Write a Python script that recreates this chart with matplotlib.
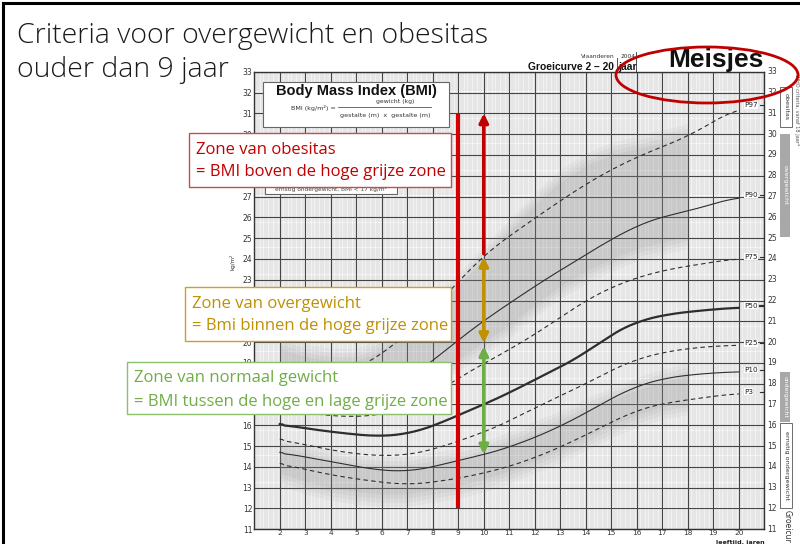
import numpy as np
import matplotlib
matplotlib.use("Agg")
import matplotlib.pyplot as plt
from matplotlib.patches import Rectangle, Ellipse

# ---------------- data ----------------
ages = [2, 3, 4, 5, 6, 7, 8, 9, 10, 11, 12, 13, 14, 15, 16, 17, 18, 19, 20]
p97 = [18.8, 18.5, 18.4, 18.7, 19.4, 20.4, 21.6, 22.9, 24.2, 25.1, 25.95, 26.8, 27.6, 28.3, 28.9, 29.4, 29.87, 30.6, 31.3]
p90 = [17.6, 17.3, 17.15, 17.2, 17.5, 18.2, 19.1, 20.1, 21.05, 21.85, 22.7, 23.45, 24.2, 24.95, 25.6, 26.05, 26.28, 26.65, 27.0]
p75 = [16.85, 16.6, 16.45, 16.4, 16.5, 16.85, 17.45, 18.3, 18.95, 19.65, 20.35, 21.2, 22.0, 22.65, 23.1, 23.45, 23.65, 23.85, 24.03]
p50 = [16.06, 15.85, 15.69, 15.55, 15.45, 15.58, 15.93, 16.5, 17.0, 17.55, 18.2, 18.8, 19.46, 20.4, 21.0, 21.3, 21.46, 21.57, 21.67]
p25 = [15.34, 15.05, 14.81, 14.62, 14.52, 14.57, 14.81, 15.25, 15.65, 16.2, 16.85, 17.4, 18.0, 18.65, 19.2, 19.5, 19.7, 19.8, 19.86]
p10 = [14.70, 14.48, 14.25, 14.02, 13.82, 13.77, 13.98, 14.33, 14.57, 14.95, 15.4, 15.95, 16.58, 17.3, 17.9, 18.25, 18.42, 18.52, 18.58]
p3 = [14.17, 13.88, 13.61, 13.42, 13.26, 13.13, 13.26, 13.45, 13.69, 14.02, 14.43, 14.95, 15.53, 16.15, 16.74, 17.05, 17.22, 17.4, 17.54]
pct_labels = ["P97", "P90", "P75", "P50", "P25", "P10", "P3"]

band_ages = [2, 3, 4, 5, 6, 7, 8, 9, 10, 11, 12, 13, 14, 15, 16, 17, 18]
high_bot = [18.0, 17.6, 17.3, 17.2, 17.3, 17.8, 18.4, 19.1, 19.9, 20.7, 21.7, 22.6, 23.3, 23.9, 24.4, 24.7, 25.0]
high_top = [19.8, 19.4, 19.2, 19.2, 19.7, 20.5, 21.6, 22.8, 24.1, 25.4, 26.7, 27.8, 28.6, 29.1, 29.4, 29.7, 30.0]
low_top = [14.9, 14.6, 14.3, 14.1, 14.0, 14.0, 14.2, 14.4, 14.7, 15.2, 15.7, 16.2, 16.8, 17.3, 17.8, 18.2, 18.5]
low_bot = [13.6, 13.2, 12.9, 12.7, 12.6, 12.6, 12.8, 13.0, 13.3, 13.7, 14.2, 14.7, 15.3, 15.9, 16.4, 16.8, 17.0]

x_ticks = list(range(2, 21))
y_ticks = list(range(11, 34))
left_hidden = [17, 18, 21, 22, 28, 29]

marker_age = 9
arrow_age = 10
obese_arrow = (24.25, 31.0)
over_arrow = (19.95, 24.1)
normal_arrow = (14.6, 19.8)

title_lines = ["Criteria voor overgewicht en obesitas", "ouder dan 9 jaar"]
box_texts = [
    ("Zone van obesitas", "= BMI boven de hoge grijze zone"),
    ("Zone van overgewicht", "= Bmi binnen de hoge grijze zone"),
    ("Zone van normaal gewicht", "= BMI tussen de hoge en lage grijze zone"),
]

# ---------------- figure ----------------
W, H = 800, 544
fig = plt.figure(figsize=(8, 5.44), dpi=100)
fig.patch.set_facecolor("white")


def fx(px):
    return px / W


def fy(py):
    return 1 - py / H


X0, X1 = 254.3, 764.3
Y0, Y1 = 529.3, 71.7
ax = fig.add_axes([fx(X0), fy(Y0), (X1 - X0) / W, (Y0 - Y1) / H])
ax.set_xlim(1, 21)
ax.set_ylim(11, 33)

# grid
for v in np.arange(1, 21.0001, 0.1):
    ax.axvline(v, color="#bdbdbd", lw=0.3, zorder=1)
for v in np.arange(11, 33.0001, 0.1):
    ax.axhline(v, color="#bdbdbd", lw=0.3, zorder=1)
for v in range(1, 22):
    ax.axvline(v, color="#454545", lw=0.8, zorder=1.2)
for v in range(11, 34):
    ax.axhline(v, color="#454545", lw=0.8, zorder=1.2)

# grey bands (soft edges)
ba = np.array(band_ages, float)
xs = np.linspace(2, 18, 200)
for lo, hi in [(low_bot, low_top), (high_bot, high_top)]:
    lo_i = np.interp(xs, ba, lo)
    hi_i = np.interp(xs, ba, hi)
    for k, a in [(0.5, 0.07), (0.3, 0.08), (0.1, 0.09), (-0.1, 0.10)]:
        ax.fill_between(xs, lo_i - k, hi_i + k, color="#8c8c8c", alpha=a, lw=0, zorder=2)

# percentile curves
curves = [p97, p90, p75, p50, p25, p10, p3]
styles = [("--", 0.8), ("-", 0.8), ("--", 0.8), ("-", 1.6), ("--", 0.8), ("-", 0.8), ("--", 0.8)]
for cv, (ls, lw), lab in zip(curves, styles, pct_labels):
    xa = np.linspace(2, 20, 300)
    ya = np.interp(xa, ages, cv)
    k = 15
    ypad = np.concatenate([np.full(k, ya[0]), ya, np.full(k, ya[-1])])
    ys = np.convolve(ypad, np.ones(2 * k + 1) / (2 * k + 1), mode="same")[k:-k]
    ys[:3] = ya[:3]
    ax.plot(xa, ys, ls=ls, lw=lw, color="#2e2e2e", zorder=3,
            dashes=(4, 3) if ls == "--" else (None, None))
    ax.text(20.2, cv[-1] + 0.08, lab, fontsize=5.2, color="#222", va="center", ha="left", zorder=4,
            bbox=dict(fc="white", ec="none", pad=0.2))
    ax.plot([20.85, 21.0], [cv[-1] + 0.08] * 2, color="#2e2e2e", lw=lw, zorder=4)

# red marker line and arrows
ax.plot([marker_age, marker_age], [12, 31], color="#d40000", lw=3.0, zorder=6, solid_capstyle="butt")
ax.annotate("", xy=(arrow_age, obese_arrow[1]), xytext=(arrow_age, obese_arrow[0]),
            arrowprops=dict(arrowstyle="-|>", color="#c00000", lw=2.6, mutation_scale=13, shrinkA=0, shrinkB=0),
            zorder=6)
ax.annotate("", xy=(arrow_age, over_arrow[1]), xytext=(arrow_age, over_arrow[0]),
            arrowprops=dict(arrowstyle="<|-|>", color="#c09100", lw=2.6, mutation_scale=13, shrinkA=0, shrinkB=0),
            zorder=6)
ax.annotate("", xy=(arrow_age, normal_arrow[1]), xytext=(arrow_age, normal_arrow[0]),
            arrowprops=dict(arrowstyle="<|-|>", color="#6fad47", lw=2.6, mutation_scale=13, shrinkA=0, shrinkB=0),
            zorder=6)

# axes ticks
ax.set_xticks(x_ticks)
ax.set_xticklabels([str(t) for t in x_ticks], fontsize=5.3, color="#333")
ax.set_yticks(y_ticks)
ax.set_yticklabels(["" if t in left_hidden else str(t) for t in y_ticks], fontsize=5.5, color="#333")
ax.tick_params(axis="x", length=0, pad=0.8)
ax.tick_params(axis="y", length=0, pad=1.5)
for t in y_ticks:
    ax.text(21.12, t, str(t), fontsize=5.5, color="#333", ha="left", va="center", clip_on=False)
for s in ax.spines.values():
    s.set_color("#333")
    s.set_linewidth(1.0)

fig.text(fx(765), fy(542.3), "leeftijd, jaren", fontsize=4.6, fontweight="bold", ha="right", va="center",
         color="#222")
fig.text(fx(233), fy(262), "kg/m²", fontsize=4, rotation=90, ha="center", va="center", color="#333")

# ---------------- header ----------------
fig.text(fx(17), fy(36), title_lines[0], fontsize=20.5, family="Open Sans", fontweight="light",
         color="#1a1a1a", va="center", ha="left")
fig.text(fx(17), fy(70), title_lines[1], fontsize=20.5, family="Open Sans", fontweight="light",
         color="#1a1a1a", va="center", ha="left")

fig.text(fx(615), fy(57), "Vlaanderen", fontsize=4.2, ha="right", va="center", color="#333")
fig.text(fx(621), fy(57), "2004", fontsize=4.2, ha="left", va="center", color="#333")
fig.text(fx(614), fy(66.5), "Groeicurve 2 – 20", fontsize=7.4, fontweight="bold", ha="right", va="center",
         family="Liberation Sans", color="#111")
fig.text(fx(618), fy(66.5), "jaar", fontsize=7.4, fontweight="bold", ha="left", va="center",
         family="Liberation Sans", color="#111")
fig.add_artist(plt.Line2D([fx(616.5), fx(616.5)], [fy(58), fy(72)], color="#333", lw=0.6))
fig.add_artist(plt.Line2D([fx(636), fx(636)], [fy(52), fy(72)], color="#333", lw=0.6))
fig.text(fx(716), fy(60), "Meisjes", fontsize=19, fontweight="bold", ha="center", va="center",
         family="Liberation Sans", color="#111")
fig.add_artist(Ellipse((fx(707), fy(75)), 182 / W, 56 / H, transform=fig.transFigure,
                       fill=False, ec="#c00000", lw=2.0, zorder=20))

# BMI box
fig.add_artist(Rectangle((fx(263), fy(127)), (449 - 263) / W, (127 - 82) / H, transform=fig.transFigure,
                         fc="white", ec="#666", lw=0.8, zorder=10))
fig.text(fx(356), fy(91.5), "Body Mass Index (BMI)", fontsize=10.5, fontweight="bold", ha="center", va="center",
         family="Liberation Sans", color="#111", zorder=11)
fig.text(fx(336), fy(108), "BMI (kg/m²) =", fontsize=4.6, ha="right", va="center", color="#333", zorder=11)
fig.text(fx(395), fy(102), "gewicht (kg)", fontsize=4.4, ha="center", va="center", color="#333", zorder=11)
fig.add_artist(plt.Line2D([fx(338), fx(431)], [fy(107), fy(107)], color="#333", lw=0.5, zorder=11))
fig.text(fx(385), fy(115), "gestalte (m)  x  gestalte (m)", fontsize=4.6, ha="center", va="center",
         color="#333", zorder=11)

# hidden second box
fig.add_artist(Rectangle((fx(265), fy(194)), (397 - 265) / W, (194 - 160) / H, transform=fig.transFigure,
                         fc="white", ec="#666", lw=0.8, zorder=10))
fig.text(fx(331), fy(189), "ernstig ondergewicht, BMI < 17 kg/m²", fontsize=4.2, ha="center", va="center",
         color="#444", zorder=11)

# zone text boxes
boxes = [
    (189, 133, 451, 187, "#c0504d", "#c00000"),
    (185, 287, 451, 341, "#c9a227", "#bf9000"),
    (127, 362, 451, 414, "#8cc06a", "#70ad47"),
]
for (x0, y0, x1, y1, ec, tc), (l1, l2) in zip(boxes, box_texts):
    fig.add_artist(Rectangle((fx(x0), fy(y1)), (x1 - x0) / W, (y1 - y0) / H, transform=fig.transFigure,
                             fc="white", ec=ec, lw=1.0, zorder=12))
    fig.text(fx(x0 + 7), fy(y0 + 16.5), l1, fontsize=12, family="Open Sans", color=tc, ha="left", va="center",
             zorder=13)
    fig.text(fx(x0 + 7), fy(y0 + 39.5), l2, fontsize=12, family="Open Sans", color=tc, ha="left", va="center",
             zorder=13)

# right side criteria boxes
fig.add_artist(Rectangle((fx(780), fy(127)), 12 / W, 40 / H, transform=fig.transFigure,
                         fc="white", ec="#555", lw=0.6, zorder=10))
fig.text(fx(786), fy(107), "obesitas", fontsize=4.6, rotation=-90, ha="center", va="center", color="#333", zorder=11)
fig.add_artist(Rectangle((fx(780), fy(237)), 10 / W, 103 / H, transform=fig.transFigure,
                         fc="#a8a8a8", ec="none", zorder=10))
fig.text(fx(785), fy(185), "overgewicht", fontsize=4.6, rotation=-90, ha="center", va="center", color="white", zorder=11)
fig.add_artist(Rectangle((fx(780), fy(422)), 10 / W, 50 / H, transform=fig.transFigure,
                         fc="#a8a8a8", ec="none", zorder=10))
fig.text(fx(785), fy(397), "ondergewicht", fontsize=4.4, rotation=-90, ha="center", va="center", color="white", zorder=11)
fig.add_artist(Rectangle((fx(780), fy(508)), 12 / W, 85 / H, transform=fig.transFigure,
                         fc="white", ec="#555", lw=0.6, zorder=10))
fig.text(fx(786), fy(465), "ernstig ondergewicht", fontsize=4.6, rotation=-90, ha="center", va="center",
         color="#333", zorder=11)
fig.text(fx(787), fy(526), "Groeicur", fontsize=5.5, rotation=-90, ha="center", va="center", color="#333")
fig.text(fx(797), fy(110), "WHO criteria, vanaf 18 jaar*", fontsize=3.6, rotation=-90, ha="center", va="center",
         color="#555")

# slide frame (left and top)
fig.add_artist(plt.Line2D([fx(3), fx(3)], [fy(3), fy(544)], color="black", lw=2.2, zorder=30))
fig.add_artist(plt.Line2D([fx(3), fx(800)], [fy(3), fy(3)], color="black", lw=2.2, zorder=30))

fig.savefig("out.png", dpi=100, facecolor="white")
